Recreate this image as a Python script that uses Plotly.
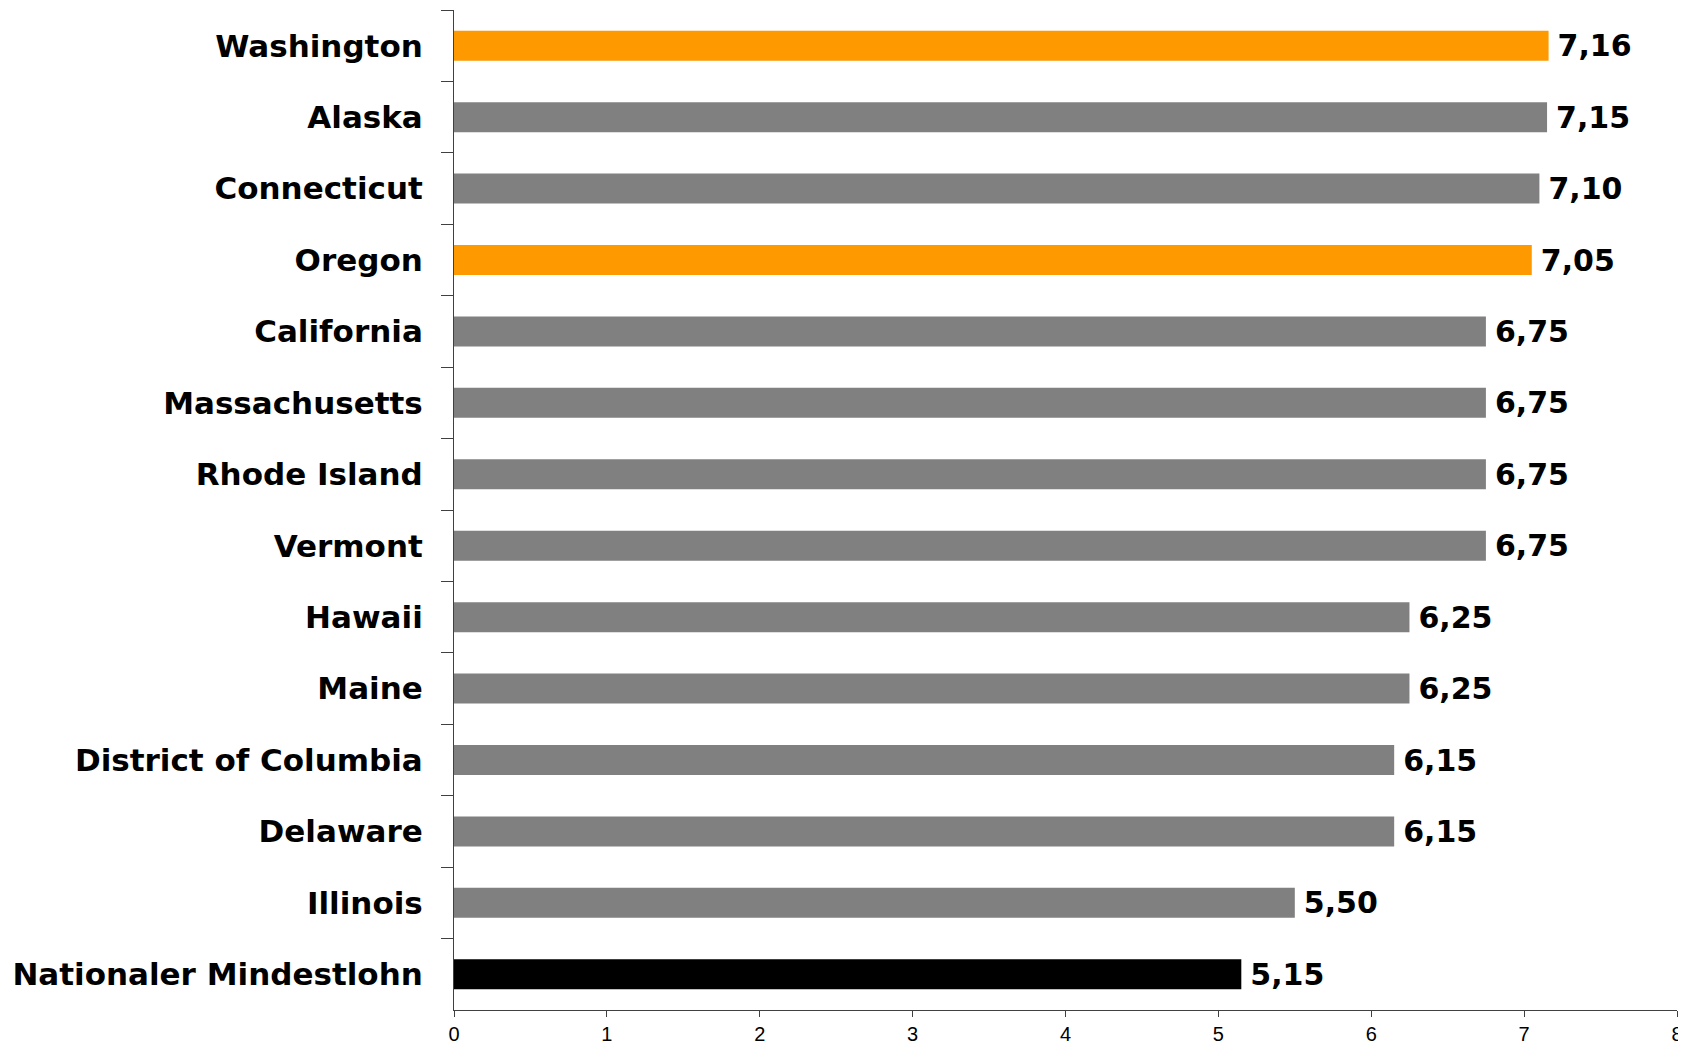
import plotly.graph_objects as go

states = ["Washington", "Alaska", "Connecticut", "Oregon", "California", "Massachusetts",
          "Rhode Island", "Vermont", "Hawaii", "Maine", "District of Columbia", "Delaware",
          "Illinois", "Nationaler Mindestlohn"]
wages = [7.16, 7.15, 7.10, 7.05, 6.75, 6.75, 6.75, 6.75, 6.25, 6.25, 6.15, 6.15, 5.50, 5.15]
bar_colors = ["#FF9900", "#808080", "#808080", "#FF9900", "#808080", "#808080", "#808080",
              "#808080", "#808080", "#808080", "#808080", "#808080", "#808080", "#000000"]
x_ticks = [0, 1, 2, 3, 4, 5, 6, 7, 8]

FONT = "Liberation Sans, Arial, sans-serif"
BOLD = "DejaVu Sans, Liberation Sans, Arial, sans-serif"

fig = go.Figure(go.Bar(
    y=states, x=wages, orientation="h",
    marker=dict(color=bar_colors, line=dict(width=0)),
    width=0.42,
    texttemplate="\u2009%{x:.2f}", textposition="outside",
    textfont=dict(family=BOLD, size=30, color="#000000", weight="bold"),
    constraintext="none",
    cliponaxis=False,
))

fig.update_layout(
    width=1678, height=1040,
    margin=dict(l=446, r=9, t=2, b=38),
    paper_bgcolor="white", plot_bgcolor="white",
    separators=",.",
    showlegend=False,
    font=dict(family=FONT, color="#000000"),
)
fig.update_xaxes(
    range=[0, 8], tickvals=x_ticks, ticktext=[str(v) for v in x_ticks],
    showgrid=False, zeroline=False, showline=True, linecolor="#404040", linewidth=1,
    ticks="outside", ticklen=6, tickcolor="#404040",
    tickfont=dict(family=FONT, size=20, color="#000000"),
)
fig.update_yaxes(
    type="category", categoryorder="array", categoryarray=states, autorange="reversed",
    showgrid=False, showline=True, linecolor="#404040", linewidth=1,
    ticks="outside", ticklen=12, tickcolor="#404040", tickson="boundaries",
    tickfont=dict(family=BOLD, size=31, color="#000000", weight="bold"),
    ticklabelstandoff=24,
)

fig.write_html("out.html")
